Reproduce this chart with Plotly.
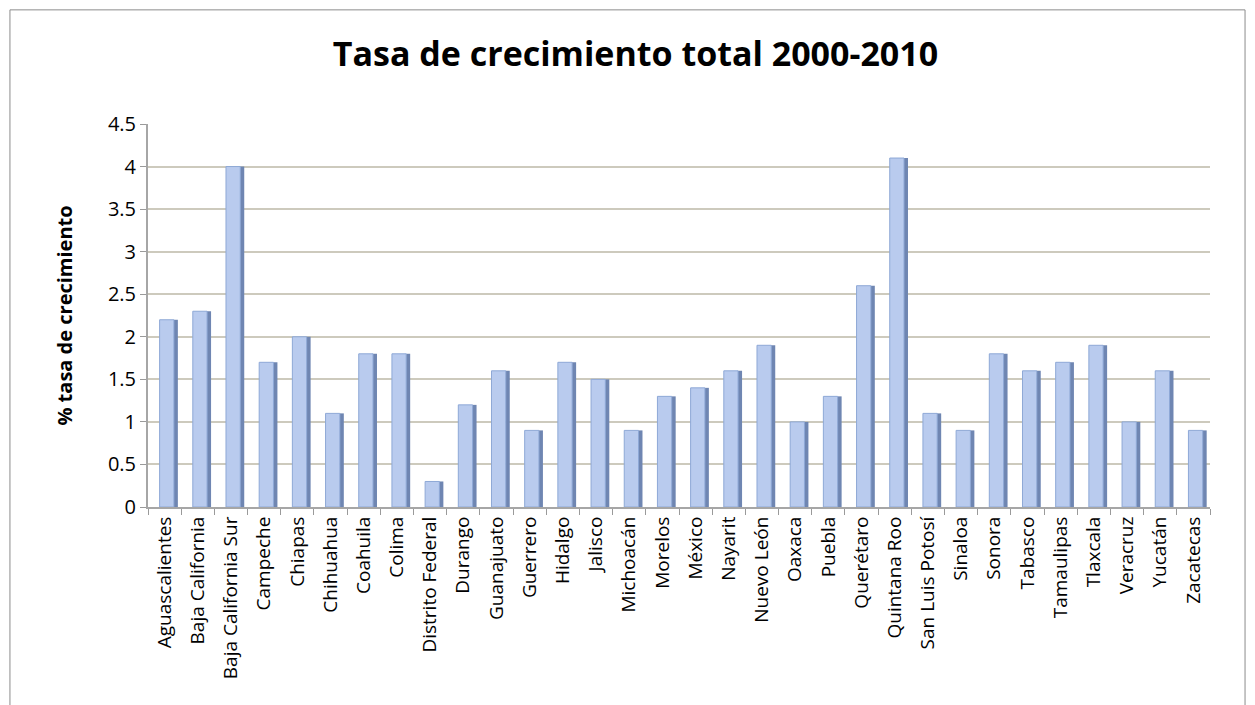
import plotly.graph_objects as go

# States of Mexico and total growth rate 2000-2010 (%)
estados = [
    "Aguascalientes", "Baja California", "Baja California Sur", "Campeche", "Chiapas",
    "Chihuahua", "Coahuila", "Colima", "Distrito Federal", "Durango", "Guanajuato",
    "Guerrero", "Hidalgo", "Jalisco", "Michoacán", "Morelos", "México", "Nayarit",
    "Nuevo León", "Oaxaca", "Puebla", "Querétaro", "Quintana Roo", "San Luis Potosí",
    "Sinaloa", "Sonora", "Tabasco", "Tamaulipas", "Tlaxcala", "Veracruz", "Yucatán",
    "Zacatecas",
]
tasa = [
    2.2, 2.3, 4.0, 1.7, 2.0, 1.1, 1.8, 1.8, 0.3, 1.2, 1.6,
    0.9, 1.7, 1.5, 0.9, 1.3, 1.4, 1.6, 1.9, 1.0, 1.3, 2.6,
    4.1, 1.1, 0.9, 1.8, 1.6, 1.7, 1.9, 1.0, 1.6, 0.9,
]
y_ticks = [0, 0.5, 1, 1.5, 2, 2.5, 3, 3.5, 4, 4.5]

FONT = "Open Sans"

fig = go.Figure()

# side face of the pseudo-3D bars
fig.add_trace(go.Bar(
    x=estados, y=tasa,
    offset=0.27, width=0.13,
    marker=dict(color="#6f86b2", line=dict(width=0)),
    hoverinfo="skip", showlegend=False,
))
# front face
fig.add_trace(go.Bar(
    x=estados, y=tasa,
    offset=-0.15, width=0.43,
    marker=dict(color="#b9cbee", line=dict(color="#8ea8d6", width=1)),
    showlegend=False,
))

fig.update_layout(
    width=1255, height=705,
    barmode="overlay",
    paper_bgcolor="white", plot_bgcolor="white",
    margin=dict(l=140, r=53, t=116, b=206),
    font=dict(family=FONT, color="black"),
    title=dict(
        text="<b>Tasa de crecimiento total 2000-2010</b>",
        x=0.5, xanchor="center", y=0.935, yanchor="middle",
        font=dict(family=FONT, size=34, color="black"),
    ),
    xaxis=dict(
        type="category",
        tickangle=-90,
        tickfont=dict(size=19),
        ticks="outside", ticklen=6, tickcolor="#9a9a9a",
        tickson="boundaries",
        showline=True, linecolor="#a6a6a6", linewidth=2,
        showgrid=False,
        range=[-0.5, len(estados) - 0.5],
    ),
    yaxis=dict(
        range=[0, 4.5],
        tickvals=y_ticks,
        ticktext=[f"{v:g}" for v in y_ticks],
        tickfont=dict(size=20),
        ticks="outside", ticklen=6, tickcolor="#9a9a9a",
        showline=True, linecolor="#a6a6a6", linewidth=2,
        showgrid=True, gridcolor="#cdcabd", gridwidth=2,
        zeroline=False,
        title=dict(text="<b>% tasa de crecimiento</b>", font=dict(size=20), standoff=30),
    ),
    shapes=[
        dict(type="rect", xref="paper", yref="paper",
             x0=-0.13, x1=1.033, y0=-0.56, y1=1.298,
             line=dict(color="#8c8c8c", width=1), fillcolor="rgba(0,0,0,0)", layer="below"),
    ],
)

fig.write_html("out.html")
